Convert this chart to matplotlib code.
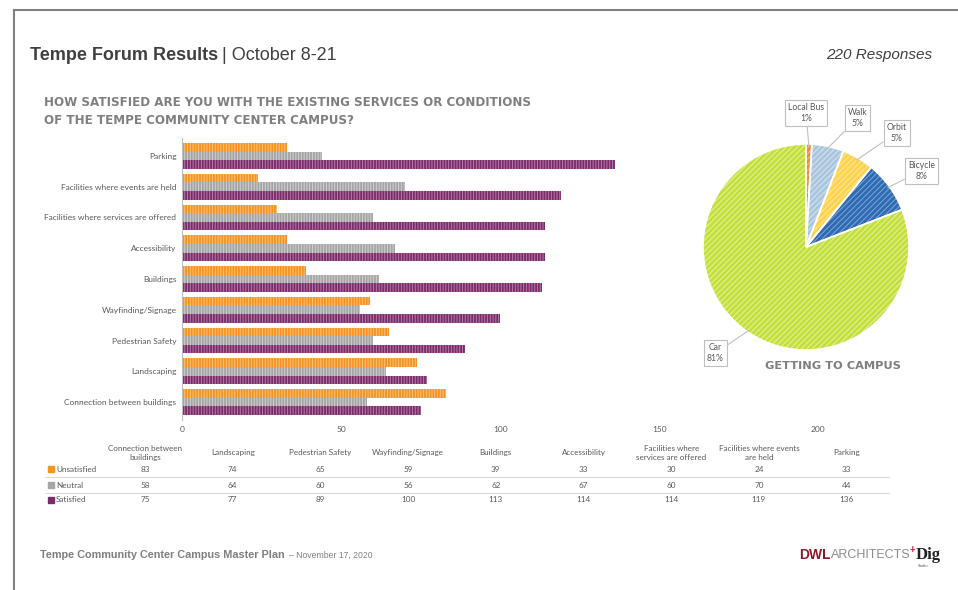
import matplotlib.pyplot as plt
from matplotlib.lines import Line2D
from matplotlib.patches import Rectangle
import numpy as np

# survey data (bottom to top in the bar chart, left to right in the table)
categories = ['Connection between buildings', 'Landscaping', 'Pedestrian Safety',
              'Wayfinding/Signage', 'Buildings', 'Accessibility',
              'Facilities where services are offered',
              'Facilities where events are held', 'Parking']
table_headers = ['Connection between\nbuildings', 'Landscaping', 'Pedestrian Safety',
                 'Wayfinding/Signage', 'Buildings', 'Accessibility',
                 'Facilities where\nservices are offered',
                 'Facilities where events\nare held', 'Parking']
unsatisfied = [83, 74, 65, 59, 39, 33, 30, 24, 33]
neutral = [58, 64, 60, 56, 62, 67, 60, 70, 44]
satisfied = [75, 77, 89, 100, 113, 114, 114, 119, 136]
x_ticks = [0, 50, 100, 150, 200]

# getting to campus
modes = ['Local Bus', 'Walk', 'Orbit', 'Bicycle', 'Car']
mode_counts = [2, 11, 11, 18, 178]

W, H = 958, 590
plt.rcParams['hatch.linewidth'] = 0.7
fig = plt.figure(figsize=(W / 100, H / 100), dpi=100)


def fx(x):
    return x / W


def fy(y):
    return 1 - y / H


TXT = '#595959'
CHART_FONT = 'Lato'

# slide border
fig.add_artist(Line2D([fx(14), fx(14)], [fy(10), 0], color='#808080', lw=1.5))
fig.add_artist(Line2D([fx(14), 1], [fy(10), fy(10)], color='#808080', lw=1.5))

# header
r = fig.canvas.get_renderer()
t1 = fig.text(fx(30), fy(55), 'Tempe Forum Results', fontsize=13, fontweight='bold',
              family='Liberation Sans', color='#404040', va='center')
bb = t1.get_window_extent(r)
fig.text(bb.x1 / W + fx(4), fy(55), '| October 8-21', fontsize=13,
         family='Liberation Sans', color='#404040', va='center')
fig.text(fx(932), fy(55), '220 Responses', fontsize=11, style='italic',
         family='Liberation Sans', color='#404040', va='center', ha='right')

fig.text(fx(44), fy(103), 'HOW SATISFIED ARE YOU WITH THE EXISTING SERVICES OR CONDITIONS',
         fontsize=8.6, fontweight='bold', family='DejaVu Sans', color='#7F7F7F', va='center')
fig.text(fx(44), fy(120), 'OF THE TEMPE COMMUNITY CENTER CAMPUS?',
         fontsize=8.6, fontweight='bold', family='DejaVu Sans', color='#7F7F7F', va='center')

# bar chart
ax = fig.add_axes([fx(182), fy(420), (882 - 182) / W, (420 - 138) / H])
y = np.arange(len(categories))
h = 0.28
ax.barh(y + h, unsatisfied, height=h, color='#F7931E', edgecolor='#FFC27A',
        hatch='||||||', linewidth=0)
ax.barh(y, neutral, height=h, color='#A5A5A5', edgecolor='#CFCFCF',
        hatch='||||||', linewidth=0)
ax.barh(y - h, satisfied, height=h, color='#7A2D6A', edgecolor='#B57AA5',
        hatch='||||||', linewidth=0)
ax.set_xlim(0, 220)
ax.set_ylim(-0.585, 8.585)
ax.set_yticks(y)
ax.set_yticklabels(categories, fontsize=6, color=TXT, family=CHART_FONT)
ax.set_xticks(x_ticks)
ax.set_xticklabels([str(v) for v in x_ticks], fontsize=6, color=TXT, family=CHART_FONT)
ax.tick_params(length=0, pad=4)
for s in ['top', 'right', 'bottom']:
    ax.spines[s].set_visible(False)
ax.spines['left'].set_color('#BFBFBF')
ax.patch.set_alpha(0)

# data table under the bars
col0, dcol = 145, 87.7
row_y = [469, 485, 500]
row_names = ['Unsatisfied', 'Neutral', 'Satisfied']
row_colors = ['#F7931E', '#A5A5A5', '#7A2D6A']
row_vals = [unsatisfied, neutral, satisfied]
for i, head in enumerate(table_headers):
    fig.text(fx(col0 + i * dcol), fy(453), head, fontsize=5.8, color=TXT,
             family=CHART_FONT, ha='center', va='center', linespacing=1.2)
for k in range(3):
    fig.add_artist(Rectangle((fx(48), fy(row_y[k] + 3)), 6 / W, 6 / H,
                             color=row_colors[k]))
    fig.text(fx(56), fy(row_y[k]), row_names[k], fontsize=5.9, color=TXT,
             family=CHART_FONT, va='center')
    for i, v in enumerate(row_vals[k]):
        fig.text(fx(col0 + i * dcol), fy(row_y[k]), str(v), fontsize=5.9, color=TXT,
                 family=CHART_FONT, ha='center', va='center')
for yy in [477, 493]:
    fig.add_artist(Line2D([fx(45), fx(889)], [fy(yy), fy(yy)], color='#D9D9D9', lw=0.8))

# pie chart
pax = fig.add_axes([fx(703), fy(350), 206 / W, 206 / H])
pie_colors = ['#F4883A', '#A9C6DC', '#FFD34E', '#2E6BB3', '#C3DF3C']
hatch_colors = ['#FBB882', '#D8E6F0', '#FFE9A0', '#7FA6D6', '#E6F4A0']
total = sum(mode_counts)
wedges, _ = pax.pie(mode_counts, colors=pie_colors, startangle=90, counterclock=False,
                    wedgeprops=dict(linewidth=0, hatch='//////'))
for w, hc in zip(wedges, hatch_colors):
    w.set_edgecolor(hc)
pax.pie(mode_counts, startangle=90, counterclock=False,
        wedgeprops=dict(fill=False, edgecolor='white', linewidth=1.2))
pax.set_xlim(-1, 1)
pax.set_ylim(-1, 1)
pax.axis('off')

label_pos = [(0.0, 1.30), (0.50, 1.25), (0.88, 1.11), (1.12, 0.74), (-0.88, -1.03)]
for w, name, cnt, pos in zip(wedges, modes, mode_counts, label_pos):
    ang = np.deg2rad((w.theta1 + w.theta2) / 2)
    pax.annotate(f'{name}\n{round(100 * cnt / total)}%',
                 xy=(0.98 * np.cos(ang), 0.98 * np.sin(ang)), xytext=pos,
                 ha='center', va='center', fontsize=6.2, color=TXT, family=CHART_FONT,
                 linespacing=1.3, annotation_clip=False,
                 bbox=dict(boxstyle='square,pad=0.35', fc='white', ec='#BFBFBF', lw=0.8),
                 arrowprops=dict(arrowstyle='-', color='#BFBFBF', lw=0.8,
                                 shrinkA=0, shrinkB=0))

fig.text(fx(833), fy(366), 'GETTING TO CAMPUS', fontsize=8.2, fontweight='bold',
         family='DejaVu Sans', color='#7F7F7F', ha='center', va='center')

# footer
f1 = fig.text(fx(40), fy(555), 'Tempe Community Center Campus Master Plan', fontsize=7.8,
              fontweight='bold', family='Liberation Sans', color='#7F7F7F', va='center')
bb = f1.get_window_extent(r)
fig.text(bb.x1 / W + fx(4), fy(555), '– November 17, 2020', fontsize=6.2,
         family='Liberation Sans', color='#7F7F7F', va='center')

l1 = fig.text(fx(799), fy(555), 'DWL', fontsize=10, fontweight='bold',
              family='Liberation Sans', color='#8E1B2B', va='center')
bb = l1.get_window_extent(r)
l2 = fig.text(bb.x1 / W, fy(555), 'ARCHITECTS', fontsize=9,
              family='Liberation Sans', color='#8C8C8C', va='center')
bb = l2.get_window_extent(r)
fig.text(bb.x1 / W, fy(550), '+', fontsize=7, fontweight='bold',
         family='Liberation Sans', color='#C0283C', va='center')
fig.text(bb.x1 / W + fx(6), fy(555), 'Dig', fontsize=12, fontweight='bold',
         family='Liberation Serif', color='#222222', va='center')
fig.text(bb.x1 / W + fx(8), fy(566), 'Studio', fontsize=3, family='Liberation Serif',
         color='#444444', va='center')

fig.savefig('out.png', dpi=100)
